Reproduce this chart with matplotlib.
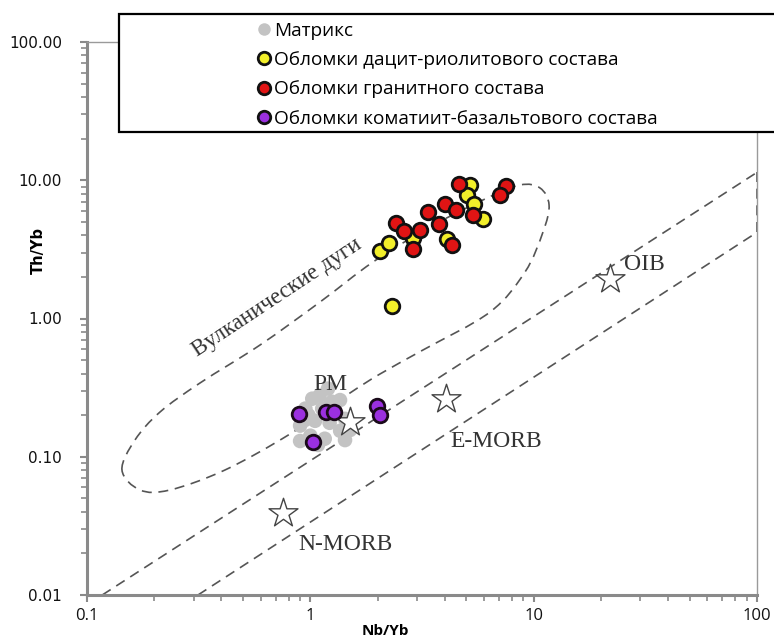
import numpy as np
import matplotlib
matplotlib.use("Agg")
import matplotlib.pyplot as plt
from matplotlib.patches import Rectangle, PathPatch
from matplotlib.path import Path
from matplotlib.lines import Line2D
from matplotlib.ticker import LogLocator, FixedLocator, FixedFormatter, NullFormatter

# ---------------- data ----------------
matrix_nb = [0.90, 0.95, 1.02, 1.10, 1.20, 1.13, 1.05, 1.22, 1.36, 1.43, 1.00, 1.16, 0.90, 1.29,
             1.50, 1.25, 0.98, 1.358, 1.225, 1.43, 1.082, 0.946, 1.505]
matrix_th = [0.168, 0.223, 0.263, 0.277, 0.311, 0.223, 0.182, 0.176, 0.154, 0.188, 0.142, 0.135, 0.130, 0.208,
             0.168, 0.250, 0.200, 0.257, 0.237, 0.132, 0.1217, 0.1845, 0.156]

dacite_nb = [2.05, 2.25, 2.31, 5.17, 5.03, 5.39, 5.93, 4.09, 2.87]
dacite_th = [3.07, 3.54, 1.23, 9.20, 7.78, 6.78, 5.28, 3.78, 3.80]

granite_nb = [2.41, 2.62, 2.88, 3.11, 3.37, 3.77, 4.00, 4.33, 4.51, 4.63, 5.35, 7.49, 7.05]
granite_th = [4.94, 4.27, 3.20, 4.34, 5.89, 4.86, 6.78, 3.38, 6.06, 9.46, 5.64, 9.05, 7.78]

komat_nb = [0.89, 1.18, 1.27, 1.03, 1.98, 2.05]
komat_th = [0.204, 0.209, 0.212, 0.127, 0.234, 0.200]

ref_names = ["PM", "E-MORB", "N-MORB", "OIB"]
ref_nb = [1.50, 4.06, 0.756, 22.0]
ref_th = [0.177, 0.262, 0.0394, 1.94]

# MORB-OIB array boundaries (Nb/Yb, Th/Yb end points)
array_upper_nb = [0.117, 100.0]
array_upper_th = [0.01, 11.4]
array_lower_nb = [0.314, 100.0]
array_lower_th = [0.01, 4.2]

# volcanic arc field boundary (closed outline)
arc_nb = [0.1434, 0.1640, 0.2123, 0.3206, 0.5953, 1.105, 1.909, 3.434, 6.056, 8.686, 10.68,
          11.72, 11.01, 9.146, 6.377, 3.195, 2.051, 1.459, 0.8110, 0.4148, 0.2352, 0.1727]
arc_th = [0.0802, 0.1322, 0.2107, 0.3416, 0.6431, 1.316, 2.563, 4.590, 7.318, 9.240, 8.788,
          6.622, 4.224, 2.169, 1.114, 0.5919, 0.3969, 0.2797, 0.1461, 0.0802, 0.0575, 0.0575]

legend_labels = ["Матрикс", "Обломки дацит-риолитового состава",
                 "Обломки гранитного состава", "Обломки коматиит-базальтового состава"]

x_ticks = [0.1, 1, 10, 100]
x_ticklabels = ["0.1", "1", "10", "100"]
y_ticks = [0.01, 0.1, 1, 10, 100]
y_ticklabels = ["0.01", "0.10", "1.00", "10.00", "100.00"]

# ---------------- figure ----------------
W, H = 774, 642
fig = plt.figure(figsize=(W / 100, H / 100), dpi=100)
L, R, T, B = 87, 757, 42, 595
ax = fig.add_axes([L / W, 1 - B / H, (R - L) / W, (B - T) / H])
ax.set_xscale("log")
ax.set_yscale("log")
ax.set_xlim(0.1, 100)
ax.set_ylim(0.01, 100)

dash_col = "#555555"
dash = dict(color=dash_col, lw=1.2, ls=(0, (6, 4)))
# array
ax.plot(array_upper_nb, array_upper_th, **dash, zorder=1)
ax.plot(array_lower_nb, array_lower_th, **dash, zorder=1)
ax.plot([array_upper_nb[1], array_lower_nb[1]], [array_upper_th[1], array_lower_th[1]],
        **dash, zorder=1, clip_on=False)

# arc field: smooth closed Bezier outline through the boundary points (log space)
P = np.column_stack([np.log10(arc_nb), np.log10(arc_th)])
n = len(P)
verts = [P[0]]
codes = [Path.MOVETO]
for i in range(n):
    p0, p1, p2, p3 = P[(i - 1) % n], P[i], P[(i + 1) % n], P[(i + 2) % n]
    c1 = p1 + (p2 - p0) / 6.0
    c2 = p2 - (p3 - p1) / 6.0
    verts += [c1, c2, p2]
    codes += [Path.CURVE4] * 3
verts = 10 ** np.array(verts)
ax.add_patch(PathPatch(Path(verts, codes), fill=False, edgecolor=dash_col, lw=1.2,
                       ls=(0, (6, 4)), zorder=1))

ax.text(0.709, 1.407, "Вулканические дуги",
        rotation=33.5, rotation_mode="anchor", ha="center", va="center",
        family="Liberation Serif", fontsize=16.5, color="#333333")

ms = 110
ax.scatter(matrix_nb, matrix_th, s=ms, color="#c3c3c3", edgecolors="none", zorder=2)
ax.scatter(ref_nb, ref_th, s=480, marker="*", facecolors="white", edgecolors="#444444",
           linewidths=1.0, zorder=3)
ax.scatter(komat_nb, komat_th, s=ms, color="#9b30e0", edgecolors="#1a0a1a", linewidths=2.0, zorder=4)
ax.scatter(dacite_nb, dacite_th, s=ms, color="#f2ef2a", edgecolors="#111111", linewidths=2.0, zorder=4)
ax.scatter(granite_nb, granite_th, s=ms, color="#e01414", edgecolors="#111111", linewidths=2.0, zorder=5)

serif = dict(family="Liberation Serif", fontsize=17, color="#333333")
ax.annotate("PM", (ref_nb[0], ref_th[0]), xytext=(-14, 27), textcoords="offset points",
            ha="center", va="center", **serif, zorder=6)
ax.annotate("E-MORB", (ref_nb[1], ref_th[1]), xytext=(36, -31), textcoords="offset points",
            ha="center", va="center", **serif)
ax.annotate("N-MORB", (ref_nb[2], ref_th[2]), xytext=(45, -23), textcoords="offset points",
            ha="center", va="center", **serif)
ax.annotate("OIB", (ref_nb[3], ref_th[3]), xytext=(25, 10), textcoords="offset points",
            ha="center", va="center", **serif)

# axes styling
spine_col = "#8a8a8a"
for sp in ["left", "bottom"]:
    ax.spines[sp].set_color(spine_col)
    ax.spines[sp].set_linewidth(2.2)
for sp in ["top", "right"]:
    ax.spines[sp].set_color("#9a9a9a")
    ax.spines[sp].set_linewidth(1.0)

ax.xaxis.set_major_locator(FixedLocator(x_ticks))
ax.xaxis.set_major_formatter(FixedFormatter(x_ticklabels))
ax.yaxis.set_major_locator(FixedLocator(y_ticks))
ax.yaxis.set_major_formatter(FixedFormatter(y_ticklabels))
ax.xaxis.set_minor_locator(LogLocator(base=10, subs=np.arange(2, 10)))
ax.yaxis.set_minor_locator(LogLocator(base=10, subs=np.arange(2, 10)))
ax.xaxis.set_minor_formatter(NullFormatter())
ax.yaxis.set_minor_formatter(NullFormatter())
ax.tick_params(axis="both", which="major", direction="out", length=5, width=1.5, color=spine_col)
ax.tick_params(axis="both", which="minor", direction="out", length=4, width=1.2, color=spine_col)
ax.tick_params(axis="x", which="major", pad=4, labelsize=12, labelcolor="#111111")
ax.tick_params(axis="y", which="major", pad=13, labelsize=11, labelcolor="#111111")
for lab in ax.get_xticklabels():
    lab.set_family("Open Sans")
for lab in ax.get_yticklabels():
    lab.set_family("DejaVu Sans")

ax.set_xlabel("Nb/Yb", family="Open Sans", fontweight="bold", fontsize=11)
ax.set_ylabel("Th/Yb", family="DejaVu Sans", fontweight="bold", fontsize=10.5)
ax.xaxis.set_label_coords((385 - L) / (R - L), (B - 631) / (B - T))
ax.yaxis.set_label_coords((38 - L) / (R - L), (B - 250) / (B - T))
ax.xaxis.label.set_va("center")
ax.yaxis.label.set_va("center")

# legend box
rect = Rectangle((119 / W, 1 - 132 / H), (W + 5 - 119) / W, (132 - 14) / H,
                 transform=fig.transFigure, facecolor="white", edgecolor="black",
                 linewidth=1.6, zorder=3)
fig.patches.append(rect)
handles = [
    Line2D([], [], ls="none", marker="o", ms=9, color="#c3c3c3", mec="none"),
    Line2D([], [], ls="none", marker="o", ms=9, color="#f2ef2a", mec="#111111", mew=2),
    Line2D([], [], ls="none", marker="o", ms=9, color="#e01414", mec="#111111", mew=2),
    Line2D([], [], ls="none", marker="o", ms=9, color="#9b30e0", mec="#111111", mew=2),
]
leg = fig.legend(handles, legend_labels, loc="upper left", bbox_to_anchor=(249 / W, 1 - 12 / H),
                 frameon=False, handlelength=0.55, handletextpad=0.25, labelspacing=0.6,
                 borderpad=0.0, prop={"family": "Open Sans", "size": 13.7})
leg.set_zorder(6)

fig.savefig("out.png", dpi=100)
